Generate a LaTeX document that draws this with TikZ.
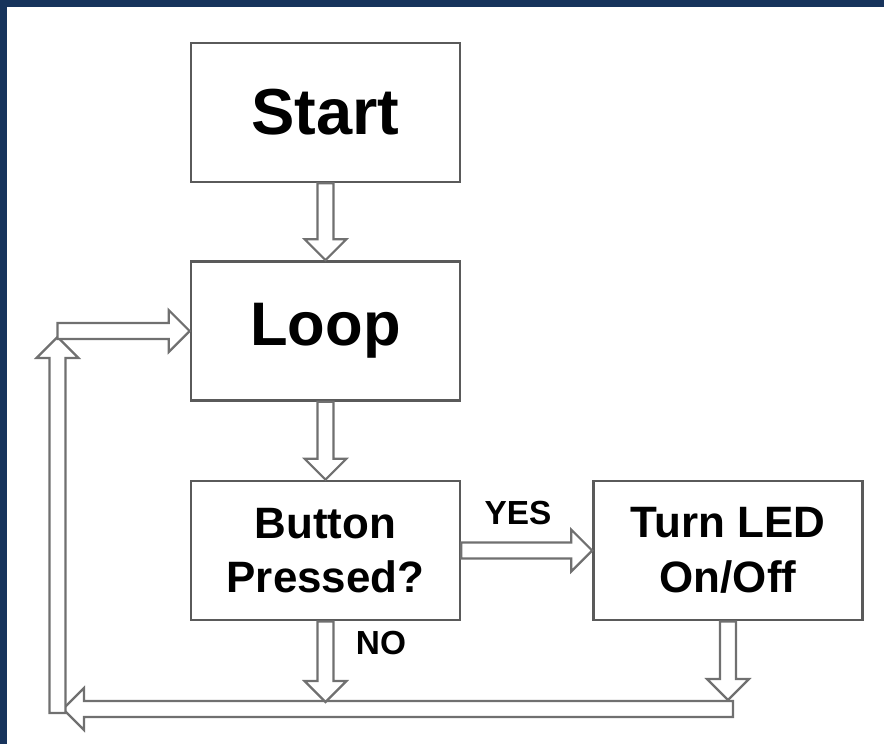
\documentclass[tikz,border=0pt]{standalone}
\usepackage{fontspec}
\setmainfont{Liberation Sans}
\usetikzlibrary{calc}

\definecolor{framebg}{HTML}{17345C}
\definecolor{boxline}{HTML}{5A5A5A}
\definecolor{arrline}{HTML}{707070}

\tikzset{
  stepbox/.style={draw=boxline, line width=0.055cm, fill=white,
    minimum width=5.38cm, minimum height=2.78cm, inner sep=0pt, align=center,
    font=\bfseries\fontsize{25}{31}\selectfont},
  blockarr/.style={draw=arrline, line width=0.045cm, fill=white, line join=miter},
  tag/.style={inner sep=0pt, font=\bfseries\fontsize{19}{22}\selectfont}
}

% block arrow from #1 (tail) to #2 (tip)
\newcommand{\flowarrow}[2]{%
  \draw[blockarr]
    ($(#1)!\shaftw!90:(#2)$) --
    ($($(#2)!\headl!(#1)$)!\shaftw!90:(#2)$) --
    ($($(#2)!\headl!(#1)$)!\headw!90:(#2)$) --
    (#2) --
    ($($(#2)!\headl!(#1)$)!\headw!-90:(#2)$) --
    ($($(#2)!\headl!(#1)$)!\shaftw!-90:(#2)$) --
    ($(#1)!\shaftw!-90:(#2)$) -- cycle;}

\begin{document}
\begin{tikzpicture}[x=0.02cm, y=-0.02cm]
  \useasboundingbox (0,0) rectangle (884,744);
  % Geometry (pixels of the original)
  \def\colL{325.5}
  \def\colR{728}
  \def\xBack{57.5} % return line on the left
  \def\yBack{709}  % return line at the bottom
  \def\shaftw{0.16cm}
  \def\headw{0.42cm}
  \def\headl{0.42cm}
  % Frame
  \fill[framebg] (0,0) rectangle (884,7);
  \fill[framebg] (0,0) rectangle (7,744);
  % Steps
  \node[stepbox, font=\bfseries\fontsize{37}{40}\selectfont] (start) at (\colL,112.5) {Start};
  \node[stepbox, font=\bfseries\fontsize{35}{40}\selectfont] (loop) at (\colL,331) {Loop};
  \node[stepbox] (button) at (\colL,550.5) {Button\\Pressed?};
  \node[stepbox] (led) at (\colR,550.5) {Turn LED\\On/Off};
  % Labels
  \node[tag] (yes) at (518,513) {YES};
  \node[tag] (no) at (381,643) {NO};
  % Return path
  \coordinate (nohit) at (\colL,702);
  \coordinate (ledhit) at (\colR,700);
  \coordinate (backtail) at (733,\yBack);
  \coordinate (backtip) at (63,\yBack);
  \coordinate (uptail) at (\xBack,713);
  \coordinate (uptip) at (\xBack,337);
  \coordinate (intail) at (\xBack,331);
  % Arrows
  \flowarrow{start.south}{loop.north}
  \flowarrow{loop.south}{button.north}
  \flowarrow{button.east}{led.west}
  \flowarrow{backtail}{backtip}
  \flowarrow{button.south}{nohit}
  \flowarrow{led.south}{ledhit}
  \flowarrow{uptail}{uptip}
  \flowarrow{intail}{loop.west}
\end{tikzpicture}
\end{document}
